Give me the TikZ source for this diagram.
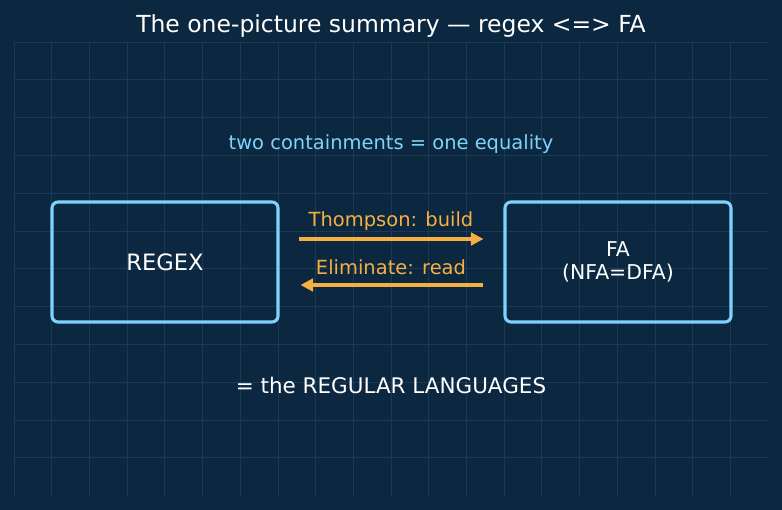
\documentclass[tikz,border=0pt]{standalone}
\usepackage{fontspec}
\setmainfont{DejaVu Sans}
\usetikzlibrary{arrows.meta,calc}
\definecolor{bgc}{RGB}{12,39,64}
\definecolor{gridc}{RGB}{28,57,84}
\definecolor{boxc}{RGB}{125,211,252}
\definecolor{orangec}{RGB}{246,176,66}
\tikzset{
  gridline/.style={draw=gridc, line width=0.6pt},
  faBox/.style={draw=boxc, line width=2.3pt, rounded corners=4.5pt,
    minimum width=169.5pt, minimum height=90pt, inner sep=0pt,
    text=white, align=center},
  arr/.style={draw=orangec, line width=2.5pt, -{Triangle[length=9.5pt,width=9.5pt]}},
  arrlabel/.style={text=orangec, font=\fontsize{14.6pt}{17pt}\selectfont},
}
\begin{document}
\begin{tikzpicture}[x=0.75pt,y=-0.75pt]
\useasboundingbox (0,0) rectangle (782,510);
\fill[bgc] (0,0) rectangle (782,510);
\foreach \i in {0,...,19} \draw[gridline] (14+\i*37.7,42) -- (14+\i*37.7,496);
\foreach \j in {0,...,11} \draw[gridline] (14,42+\j*37.8) -- (768,42+\j*37.8);
\node[text=white, font=\fontsize{17.6pt}{20pt}\selectfont] (title) at (391,26) {The one-picture summary — regex <=> FA};
\node[text=boxc, font=\fontsize{14.6pt}{17pt}\selectfont] (top) at (391,144) {two containments = one equality};
\node[faBox, font=\fontsize{16.9pt}{20pt}\selectfont] (regex) at (165,262) {\raisebox{-2pt}{REGEX}};
\node[faBox, font=\fontsize{15.3pt}{17.5pt}\selectfont] (fa) at (618,262) {\raisebox{-1.5pt}{FA}\\\raisebox{-1.5pt}{(NFA=DFA)}};
\draw[arr, shorten <=14.5pt, shorten >=15pt] ($(regex.east)+(0,-23)$) -- ($(fa.west)+(0,-23)$);
\draw[arr, shorten <=15pt, shorten >=15.75pt] ($(fa.west)+(0,23)$) -- ($(regex.east)+(0,23)$);
\node[arrlabel] (thl) at (391,221) {Thompson: build};
\node[arrlabel] (ell) at (391,267) {Eliminate: read};
\node[text=white, font=\fontsize{16.1pt}{19pt}\selectfont] (bottom) at (391,385) {= the REGULAR LANGUAGES};
\end{tikzpicture}
\end{document}
